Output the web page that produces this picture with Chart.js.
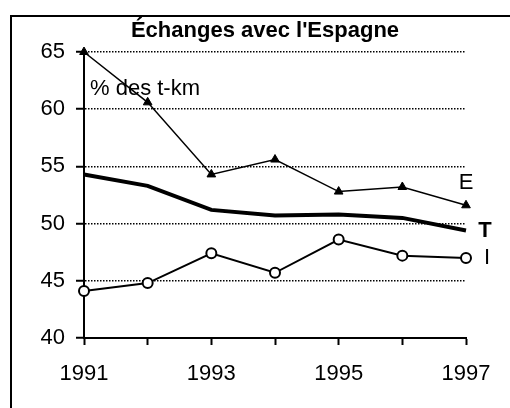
<!DOCTYPE html>
<html>
<head>
<meta charset="utf-8">
<script src="https://cdn.jsdelivr.net/npm/chart.js@4/dist/chart.umd.min.js"></script>
<style>
  body { margin: 0; background: #fff; }
  canvas { display: block; }
</style>
</head>
<body>
<canvas id="chart" width="510" height="408"></canvas>
<script>
// data
const years = ['1991', '1992', '1993', '1994', '1995', '1996', '1997'];
const eValues = [65.0, 60.6, 54.3, 55.6, 52.8, 53.2, 51.6];
const tValues = [54.3, 53.3, 51.2, 50.7, 50.8, 50.5, 49.4];
const iValues = [44.1, 44.8, 47.4, 45.7, 48.6, 47.2, 47.0];
const yTicks = [40, 45, 50, 55, 60, 65];

const FONT = '"Liberation Sans", Arial, sans-serif';

// frame, title and the little text labels
const decor = {
    id: 'decor',
    afterDraw(chart) {
        const ctx = chart.ctx;
        const x = chart.scales.x;
        const y = chart.scales.y;
        const last = years.length - 1;
        ctx.save();
        ctx.strokeStyle = '#000';
        ctx.lineWidth = 2;
        ctx.beginPath();
        ctx.moveTo(11, 408);
        ctx.lineTo(11, 16);
        ctx.lineTo(510, 16);
        ctx.stroke();

        ctx.fillStyle = '#000';
        ctx.textAlign = 'center';
        ctx.textBaseline = 'middle';
        ctx.font = 'bold 22px ' + FONT;
        ctx.fillText("Échanges avec l'Espagne", 265, 31);

        ctx.font = '22px ' + FONT;
        ctx.fillText('E', x.getPixelForValue(last), y.getPixelForValue(eValues[last]) - 22);
        ctx.fillText('I', x.getPixelForValue(last) + 21, y.getPixelForValue(iValues[last]));
        ctx.font = 'bold 22px ' + FONT;
        ctx.fillText('T', x.getPixelForValue(last) + 19, y.getPixelForValue(tValues[last]));

        ctx.font = '22px ' + FONT;
        ctx.textAlign = 'left';
        ctx.fillText('% des t-km', 90, 89);
        ctx.restore();
    }
};

new Chart(document.getElementById('chart'), {
    type: 'line',
    data: {
        labels: years,
        datasets: [
            {
                label: 'E',
                data: eValues,
                borderColor: '#000',
                borderWidth: 1.5,
                pointStyle: 'triangle',
                pointRadius: 5,
                pointBackgroundColor: '#000',
                pointBorderColor: '#000',
                pointBorderWidth: 1,
                tension: 0,
                clip: false
            },
            {
                label: 'T',
                data: tValues,
                borderColor: '#000',
                borderWidth: 4,
                pointRadius: 0,
                tension: 0,
                clip: false
            },
            {
                label: 'I',
                data: iValues,
                borderColor: '#000',
                borderWidth: 2,
                pointStyle: 'circle',
                pointRadius: 5,
                pointBackgroundColor: '#fff',
                pointBorderColor: '#000',
                pointBorderWidth: 2,
                tension: 0,
                clip: false
            }
        ]
    },
    options: {
        responsive: false,
        animation: false,
        layout: { padding: { top: 52, right: 44, left: 0, bottom: 0 } },
        plugins: {
            legend: { display: false },
            title: { display: false },
            tooltip: { enabled: false }
        },
        scales: {
            x: {
                type: 'category',
                offset: false,
                afterFit: s => { s.height = 70; },
                border: { display: true, color: '#000', width: 2 },
                grid: {
                    drawOnChartArea: false,
                    drawTicks: true,
                    tickLength: 7,
                    tickColor: '#000',
                    tickWidth: 2
                },
                ticks: {
                    autoSkip: false,
                    maxRotation: 0,
                    padding: 16,
                    color: '#000',
                    font: { family: FONT, size: 22 },
                    callback: (v, i) => (i % 2 === 0 ? years[i] : '')
                }
            },
            y: {
                min: 40,
                max: 65,
                afterFit: s => { s.width = 84; },
                afterBuildTicks: s => { s.ticks = yTicks.map(v => ({ value: v })); },
                border: { display: true, color: '#000', width: 2, dash: [1.5, 1.5] },
                grid: {
                    color: c => (c.tick && c.tick.value === 40 ? 'rgba(0,0,0,0)' : '#000'),
                    lineWidth: 1.5,
                    tickLength: 8,
                    tickColor: '#000',
                    tickWidth: 2,
                    tickBorderDash: []
                },
                ticks: {
                    padding: 11,
                    color: '#000',
                    font: { family: FONT, size: 22 }
                }
            }
        }
    },
    plugins: [decor]
});
</script>
</body>
</html>
